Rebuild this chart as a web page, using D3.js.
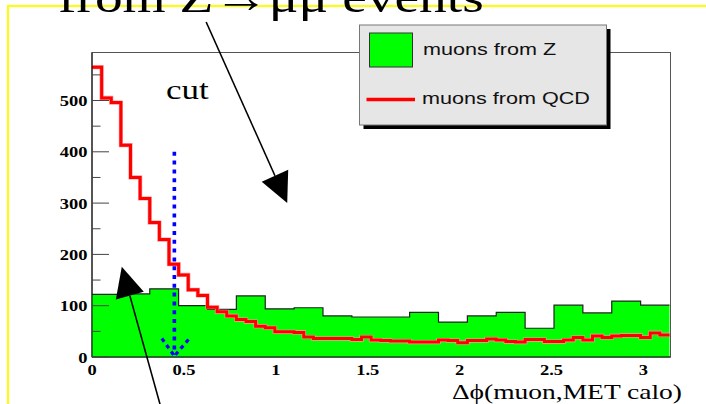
<!DOCTYPE html>
<html><head><meta charset="utf-8">
<script src="https://cdn.jsdelivr.net/npm/d3@7"></script>
<style>html,body{margin:0;padding:0;background:#fff;overflow:hidden}</style>
</head><body>
<script>
// ---- data ----
const nZ = 20, nQCD = 60;
const zValues = [122,123,133,100,93,119,94,96,80,78,78,87,68,80,87,56,101,86,109,101];
const qcdValues = [565,505,496,413,350,309,262,229,181,160,131,120,97,88,80,73,69,60,57,49,
  49,48,39,36,36,36,36,34,39,33,32,31,31,29,29,29,33,32,28,32,
  32,35,33,30,29,34,34,30,30,33,38,33,41,38,41,42,42,38,47,43];
const xTicks = [0,0.5,1,1.5,2,2.5,3];
const xTickLabels = ["0","0.5","1","1.5","2","2.5","3"];
const yMajor = [0,100,200,300,400,500];
const yMinor = [50,150,250,350,450,550];
const legendLabels = ["muons from Z","muons from QCD"];
const cutX = 0.448, cutTop = 400;
// annotation arrows [from, tip] in data units
const arrowCut = [[0.621,653],[1.062,300]];
const arrowLow = [[0.370,-92],[0.162,176]];

const W=706,H=404;
const svg=d3.select("body").append("svg").attr("width",W).attr("height",H);
const x=d3.scaleLinear().domain([0,Math.PI]).range([92,669.5]);
const y=d3.scaleLinear().domain([0,593.6]).range([357,52.5]);
const SX=1.23;
function txt(g,s,px,py,opts){
  const t=g.append("text").attr("transform",`translate(${px},${py}) scale(${opts.sx||SX},1)`)
   .attr("font-family",opts.family||"'Liberation Serif','Times New Roman',serif")
   .attr("font-size",opts.size).attr("font-weight",opts.weight||"normal")
   .attr("text-anchor",opts.anchor||"start").attr("fill",opts.fill||"#000").text(s);
  return t;
}

// yellow page border
svg.append("path").attr("d","M8,404 L8,6 L706,6").attr("fill","none").attr("stroke","#ffff00").attr("stroke-width",2);

// title (partly clipped at top)
txt(svg,"from Z\u2192\u03bc\u03bc events",58,12,{size:44,sx:1.26});

// frame
svg.append("rect").attr("x",x(0)).attr("y",y.range()[1]).attr("width",x(Math.PI)+1-x(0)).attr("height",y(0)-y.range()[1])
  .attr("fill","#fff").attr("stroke","#555").attr("stroke-width",1);

// green histogram
const wZ=Math.PI/nZ;
const zPts=zValues.map((v,i)=>[i*wZ,v]); zPts.push([Math.PI,zValues[nZ-1]]);
svg.append("path").datum(zPts)
  .attr("d",d3.area().curve(d3.curveStepAfter).x(d=>x(d[0])).y0(y(0)).y1(d=>y(d[1])))
  .attr("fill","#00ff00");
svg.append("path").datum(zPts)
  .attr("d",d3.line().curve(d3.curveStepAfter).x(d=>x(d[0])).y(d=>y(d[1])))
  .attr("fill","none").attr("stroke","#222").attr("stroke-width",1.2);

// red histogram
const wQ=Math.PI/nQCD;
const qPts=qcdValues.map((v,i)=>[i*wQ,v]); qPts.push([Math.PI,qcdValues[nQCD-1]]);
const qLine=d3.line().curve(d3.curveStepAfter).x(d=>x(d[0])).y(d=>y(d[1]));
svg.append("path").datum(qPts).attr("d",qLine).attr("fill","none").attr("stroke","#ff9a9a").attr("stroke-width",4.2);
svg.append("path").datum(qPts).attr("d",qLine).attr("fill","none").attr("stroke","#ff0000").attr("stroke-width",3);

// axes
const ax=svg.append("g");
ax.append("line").attr("x1",x(0)).attr("x2",x(0)).attr("y1",y.range()[1]).attr("y2",y(0)).attr("stroke","#000");
ax.append("line").attr("x1",x(0)).attr("x2",x(Math.PI)+1).attr("y1",y(0)).attr("y2",y(0)).attr("stroke","#000").attr("stroke-width",1.2);
yMajor.forEach(v=>{
  ax.append("line").attr("x1",x(0)).attr("x2",x(0)+17).attr("y1",y(v)).attr("y2",y(v)).attr("stroke","#444");
  txt(ax,String(v),87.5,y(v)+5.5,{size:15,weight:"bold",anchor:"end"});
});
yMinor.forEach(v=>{
  ax.append("line").attr("x1",x(0)).attr("x2",x(0)+8.5).attr("y1",y(v)).attr("y2",y(v)).attr("stroke","#444");
});
xTicks.forEach((v,i)=>{
  txt(ax,xTickLabels[i],x(v),374.5,{size:15,weight:"bold",anchor:"middle"});
});
txt(ax,"\u0394\u03d5(muon,MET calo)",682,398.5,{size:22,anchor:"end",sx:1.25});

// cut line (blue dotted) with arrowhead
const blue=svg.append("g").attr("stroke","#0000ff").attr("fill","none");
blue.append("line").attr("x1",x(cutX)).attr("x2",x(cutX)).attr("y1",y(cutTop)).attr("y2",y(0)-2)
  .attr("stroke-width",3.6).attr("stroke-dasharray","4,4.8");
[[cutX-0.068,36],[cutX+0.077,34]].forEach(p=>{
  blue.append("line").attr("x1",x(p[0])).attr("y1",y(p[1])).attr("x2",x(cutX)).attr("y2",y(0)-1)
   .attr("stroke-width",3.2).attr("stroke-dasharray","4,4");
});
txt(svg,"cut",166,99,{size:28,sx:1.25});

// black arrows
function arrow(a){
  const x0=x(a[0][0]),y0=y(a[0][1]),x1=x(a[1][0]),y1=y(a[1][1]);
  const dx=x1-x0,dy=y1-y0,L=Math.hypot(dx,dy),ux=dx/L,uy=dy/L;
  const hl=30,hw=14.5;
  const bx=x1-ux*hl,by=y1-uy*hl;
  svg.append("line").attr("x1",x0).attr("y1",y0).attr("x2",bx).attr("y2",by).attr("stroke","#000").attr("stroke-width",1.6);
  svg.append("path").attr("d",`M${x1},${y1}L${bx-uy*hw},${by+ux*hw}L${bx+uy*hw},${by-ux*hw}Z`).attr("fill","#000");
}
arrow(arrowCut); arrow(arrowLow);

// legend
const lg=svg.append("g");
lg.append("rect").attr("x",363.5).attr("y",29).attr("width",247).attr("height",100).attr("fill","#000");
lg.append("rect").attr("x",359.5).attr("y",25).attr("width",247).attr("height",100).attr("fill","#e6e6e6").attr("stroke","#777").attr("stroke-width",1);
lg.append("rect").attr("x",369.5).attr("y",33).attr("width",43).attr("height",34).attr("fill","#00ff00").attr("stroke","#333").attr("stroke-width",1);
lg.append("line").attr("x1",366.5).attr("x2",415).attr("y1",99.5).attr("y2",99.5).attr("stroke","#ff0000").attr("stroke-width",3.5);
txt(lg,legendLabels[0],423,55,{size:17,sx:1.27,family:"'Liberation Sans',Arial,sans-serif",fill:"#111"});
txt(lg,legendLabels[1],422,103.5,{size:17,sx:1.27,family:"'Liberation Sans',Arial,sans-serif",fill:"#111"});
</script>
</body></html>
